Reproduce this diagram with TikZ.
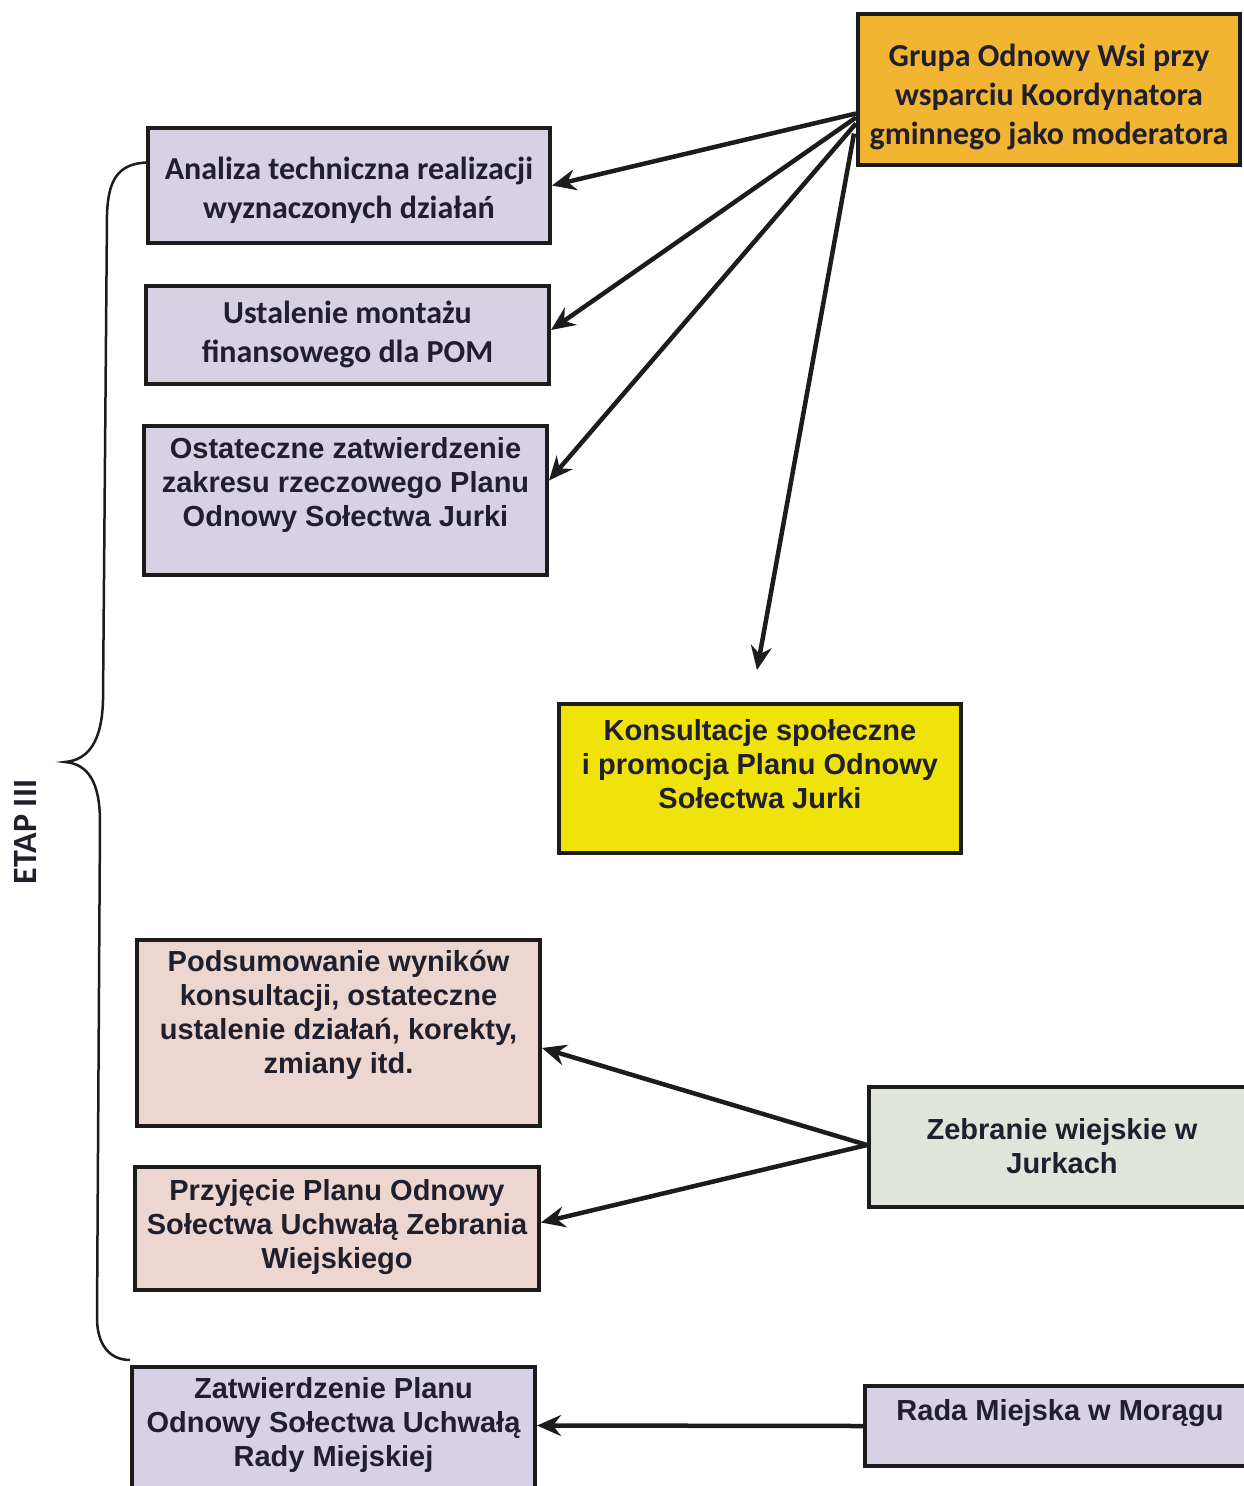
\documentclass[tikz,border=0pt]{standalone}
\usepackage{fontspec}
\newfontfamily\calfont{Carlito}
\newfontfamily\arifont{Liberation Sans}
\usetikzlibrary{arrows.meta,calc}
\definecolor{orangeF}{HTML}{F2B531}
\definecolor{lavF}{HTML}{D8D0E3}
\definecolor{yelF}{HTML}{F0E30A}
\definecolor{pinkF}{HTML}{EDD6CF}
\definecolor{greenF}{HTML}{DFE5DA}
\definecolor{boxline}{HTML}{1C1C1C}
\definecolor{txt}{HTML}{1F1F2E}
\begin{document}
\begin{tikzpicture}[x=1pt,y=-1pt,
  box/.style={draw=boxline, line width=4pt, inner sep=0pt, rectangle},
  ctext/.style={text=txt, align=center, font=\calfont\bfseries\fontsize{32}{39}\selectfont, inner sep=0pt},
  atext/.style={text=txt, align=center, font=\arifont\bfseries\fontsize{29}{34}\selectfont, inner sep=0pt},
  conn/.style={draw=boxline, line width=4.5pt, -{Stealth[length=24pt,width=21pt,inset=8pt]}},
  brace/.style={draw=boxline, line width=2.5pt}]
\useasboundingbox (0,0) rectangle (1244,1486);
\fill[white] (0,0) rectangle (1244,1486);

% boxes
\node[box, fill=orangeF, minimum width=382pt, minimum height=151pt] (grupa) at (1049,89.5) {};
\node[ctext] (grupaT) at (1049,97) {Grupa Odnowy Wsi przy\\wsparciu Koordynatora\\gminnego jako moderatora};

\node[box, fill=lavF, minimum width=402pt, minimum height=115pt] (analiza) at (349,185.5) {};
\node[ctext] (analizaT) at (349,190) {Analiza techniczna realizacji\\wyznaczonych działań};

\node[box, fill=lavF, minimum width=403pt, minimum height=98pt] (ustal) at (347.5,335) {};
\node[ctext] (ustalT) at (347.5,334) {Ustalenie montażu\\finansowego dla POM};

\node[box, fill=lavF, minimum width=403pt, minimum height=149pt] (ostat) at (345.5,500.5) {};
\node[atext] (ostatT) at (345.5,485) {Ostateczne zatwierdzenie\\zakresu rzeczowego Planu\\Odnowy Sołectwa Jurki};

\node[box, fill=yelF, minimum width=402pt, minimum height=149pt] (konsult) at (760,778.5) {};
\node[atext] (konsultT) at (760,764) {Konsultacje społeczne\\i promocja Planu Odnowy\\Sołectwa Jurki};

\node[box, fill=pinkF, minimum width=403pt, minimum height=186pt] (podsum) at (338.5,1033) {};
\node[atext] (podsumT) at (338.5,1015) {Podsumowanie wyników\\konsultacji, ostateczne\\ustalenie działań, korekty,\\zmiany itd.};

\node[box, fill=pinkF, minimum width=404pt, minimum height=123pt] (przyj) at (337,1228.5) {};
\node[atext] (przyjT) at (337,1227) {Przyjęcie Planu Odnowy\\Sołectwa Uchwałą Zebrania\\Wiejskiego};

\node[box, fill=greenF, minimum width=393pt, minimum height=120pt] (zebr) at (1065.5,1147) {};
\node[atext] (zebrT) at (1062,1146) {Zebranie wiejskie w\\Jurkach};

\node[box, fill=lavF, minimum width=403pt, minimum height=125pt] (zatw) at (333.5,1429.5) {};
\node[atext] (zatwT) at (333.5,1425) {Zatwierdzenie Planu\\Odnowy Sołectwa Uchwałą\\Rady Miejskiej};

\node[box, fill=lavF, minimum width=397pt, minimum height=80pt] (rada) at (1063.5,1426) {};
\node[atext] (radaT) at (1060,1413) {Rada Miejska w Morągu};

% connectors
\coordinate (kend) at (757,670);
\draw[conn] ([yshift=-24pt]grupa.west) -- (analiza.east);
\draw[conn] ([yshift=-28pt]grupa.west) -- ([yshift=5pt]ustal.east);
\draw[conn] ([yshift=-34pt]grupa.west) -- ([yshift=20pt]ostat.east);
\draw[conn] ([yshift=-44pt,xshift=-2pt]grupa.west) -- (kend);
\draw[conn] ([yshift=2pt]zebr.west) -- ([yshift=-15pt]podsum.east);
\draw[conn] ([yshift=2pt]zebr.west) -- ([yshift=6pt]przyj.east);
\draw[conn] (rada.west) -- ([yshift=4pt]zatw.east);

% brace
\draw[brace] ([yshift=23pt]analiza.west) .. controls (118,164) and (108,180) .. (107,215)
  -- (103,700) .. controls (102,742) and (88,760) .. (65,762)
  .. controls (88,764) and (100,782) .. (100,822)
  -- (97,1318) .. controls (97,1345) and (110,1360) .. ([yshift=5pt]zatw.north west);

\node[text=txt, rotate=90, font=\calfont\bfseries\fontsize{34}{40}\selectfont, inner sep=0pt] (etap) at (25,832) {ETAP III};
\end{tikzpicture}
\end{document}
